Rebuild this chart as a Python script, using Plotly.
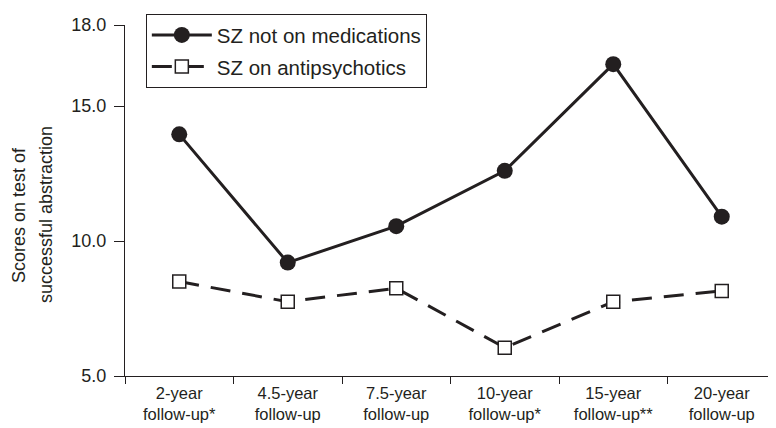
import plotly.graph_objects as go

categories = ["2-year<br>follow-up*", "4.5-year<br>follow-up", "7.5-year<br>follow-up",
              "10-year<br>follow-up*", "15-year<br>follow-up**", "20-year<br>follow-up"]
not_on_meds = [13.95, 9.2, 10.55, 12.6, 16.55, 10.9]
on_antipsychotics = [8.5, 7.75, 8.25, 6.05, 7.75, 8.15]
y_tick_vals = [5, 10, 15, 18]
y_tick_text = ["5.0", "10.0", "15.0", "18.0"]

INK = "#231f20"
FONT = "Liberation Sans, Arial, sans-serif"

fig = go.Figure()
fig.add_trace(go.Scatter(
    x=categories, y=not_on_meds, name="SZ not on medications",
    mode="lines+markers",
    line=dict(color=INK, width=3),
    marker=dict(symbol="circle", size=16, color=INK, line=dict(width=0)),
    legendgroup="a",
))
fig.add_trace(go.Scatter(
    x=categories, y=on_antipsychotics, name="SZ on antipsychotics",
    mode="lines+markers",
    line=dict(color=INK, width=3, dash="20px,12px"),
    marker=dict(symbol="square", size=13, color="white", line=dict(color=INK, width=1.5)),
    legendgroup="b",
))

fig.update_layout(
    width=768, height=420,
    margin=dict(l=117, r=0, t=17, b=52, autoexpand=False),
    paper_bgcolor="white", plot_bgcolor="white",
    font=dict(family=FONT, color=INK, size=17),
    showlegend=True,
    legend=dict(
        x=0.032, y=1.031, xanchor="left", yanchor="top",
        bordercolor=INK, borderwidth=1, bgcolor="white",
        font=dict(size=20.5, family=FONT, color=INK),
        itemwidth=60, tracegroupgap=2,
    ),
    xaxis=dict(
        range=[-0.5, 5.5], showgrid=False, zeroline=False, automargin=False,
        showline=True, linecolor=INK, linewidth=1,
        ticks="outside", tickson="boundaries", ticklen=7, tickcolor=INK,
        ticklabelstandoff=2,
        tickfont=dict(size=16.5, family=FONT, color=INK),
    ),
    yaxis=dict(
        range=[5, 18], showgrid=False, zeroline=False, automargin=False,
        showline=True, linecolor=INK, linewidth=1,
        ticks="outside", ticklen=10, tickcolor=INK,
        ticklabelstandoff=4,
        tickvals=y_tick_vals, ticktext=y_tick_text,
        tickfont=dict(size=18, family=FONT, color=INK),
    ),
    annotations=[
        dict(text="Scores on test of", textangle=-90, xref="paper", yref="paper",
             x=(19 - 125) / 651, y=(376 - 215) / 351, xanchor="center", yanchor="middle",
             showarrow=False, font=dict(size=18, family=FONT, color=INK)),
        dict(text="successful abstraction", textangle=-90, xref="paper", yref="paper",
             x=(46 - 125) / 651, y=(376 - 215) / 351, xanchor="center", yanchor="middle",
             showarrow=False, font=dict(size=18, family=FONT, color=INK)),
    ],
)

fig.write_html("out.html")
